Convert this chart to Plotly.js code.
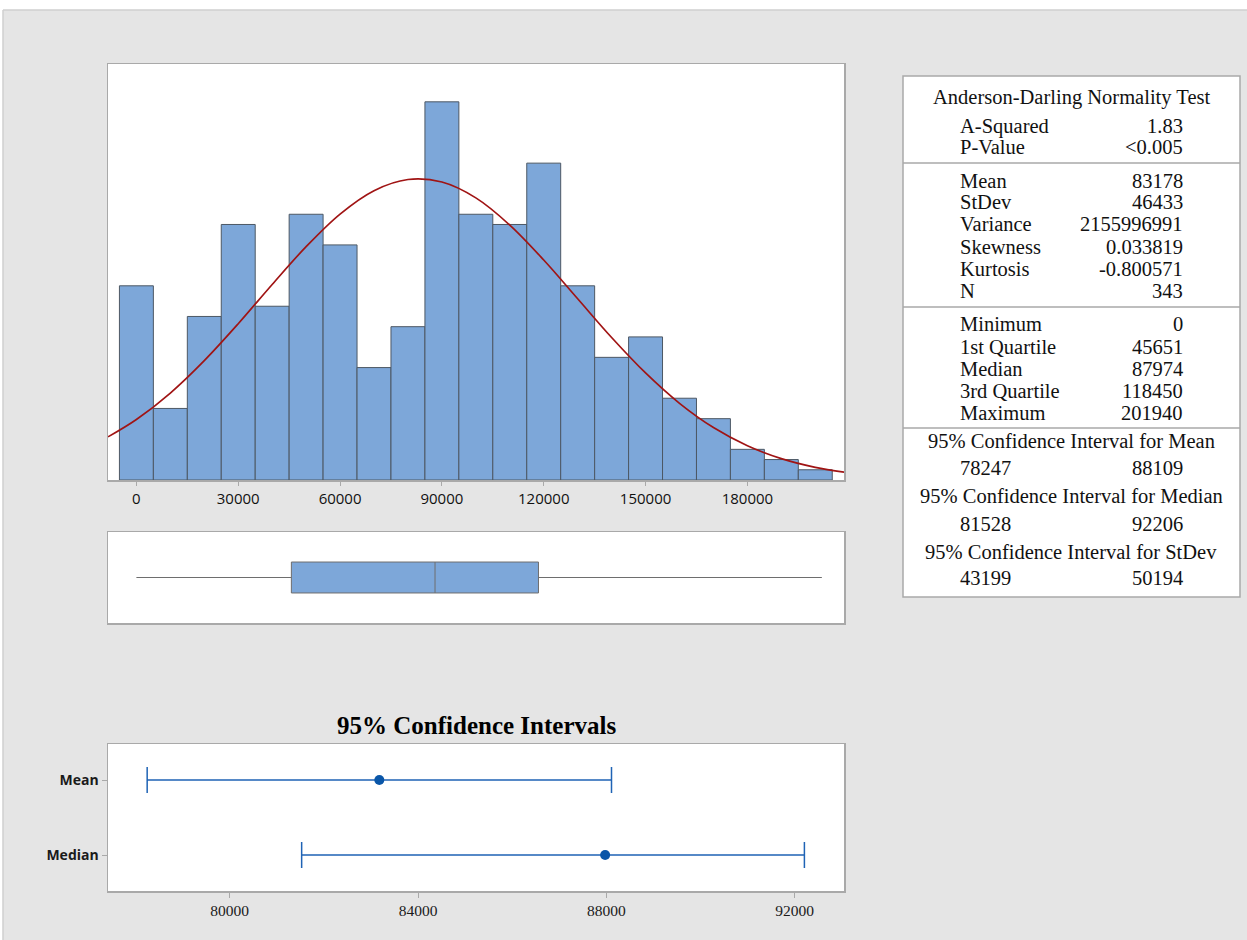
<!DOCTYPE html>
<html>
<head>
<meta charset="utf-8">
<script src="https://cdn.plot.ly/plotly-3.0.1.min.js"></script>
<style>
html,body{margin:0;padding:0;background:#ffffff;}
#chart{width:1247px;height:940px;}
</style>
</head>
<body>
<div id="chart"></div>
<script>
// ---------- DATA ----------
const binCenters = [0,10000,20000,30000,40000,50000,60000,70000,80000,90000,100000,110000,120000,130000,140000,150000,160000,170000,180000,190000,200000];
const binCounts  = [19,7,16,25,17,26,23,11,15,37,26,25,31,19,12,14,8,6,3,2,1];
const binWidth = 10000;

// fitted normal curve
const curveX = [-8367,0,10000,20000,30000,40000,50000,60000,70000,80000,90000,100000,110000,120000,130000,140000,150000,160000,170000,180000,190000,200000,208460];
const curveY = [4.22,5.92,8.51,11.68,15.29,19.13,22.83,26.02,28.31,29.40,29.15,27.60,24.94,21.52,17.73,13.94,10.47,7.50,5.13,3.35,2.09,1.24,0.77];

const histTicks = [0,30000,60000,90000,120000,150000,180000];

// box plot summary
const boxQ1 = [45651];
const boxMedian = [87974];
const boxQ3 = [118450];
const boxMin = [0];
const boxMax = [201940];

// confidence intervals
const ciLabels = ['Mean','Median'];
const ciCenter = [83178, 87974];
const ciLower  = [78247, 81528];
const ciUpper  = [88109, 92206];
const ciTicks  = [80000, 84000, 88000, 92000];

// summary table
const adTitle = 'Anderson-Darling Normality Test';
const adLabels = ['A-Squared','P-Value'];
const adValues = ['1.83','&lt;0.005'];
const momLabels = ['Mean','StDev','Variance','Skewness','Kurtosis','N'];
const momValues = ['83178','46433','2155996991','0.033819','-0.800571','343'];
const qLabels = ['Minimum','1st Quartile','Median','3rd Quartile','Maximum'];
const qValues = ['0','45651','87974','118450','201940'];
const ciTitles = ['95% Confidence Interval for Mean','95% Confidence Interval for Median','95% Confidence Interval for StDev'];
const ciLows  = ['78247','81528','43199'];
const ciHighs = ['88109','92206','50194'];

// ---------- LAYOUT HELPERS ----------
const W = 1247, H = 940;
const px = v => v / W;
const py = v => 1 - v / H;

const serif = 'Liberation Serif, Times New Roman, serif';
const sans = 'Open Sans, Noto Sans, sans-serif';
const frameColor = '#a9a9a9';
const barBlue = '#7da7d9';

const traces = [];

traces.push({
  type: 'bar', x: binCenters, y: binCounts, width: binWidth,
  marker: {color: barBlue, line: {color: '#4d5864', width: 1}},
  xaxis: 'x', yaxis: 'y', hoverinfo: 'skip'
});
traces.push({
  type: 'scatter', mode: 'lines', x: curveX, y: curveY,
  line: {color: '#a01414', width: 1.7, shape: 'spline', smoothing: 1},
  xaxis: 'x', yaxis: 'y', hoverinfo: 'skip'
});
traces.push({
  type: 'box', orientation: 'h', y: [0],
  q1: boxQ1, median: boxMedian, q3: boxQ3, lowerfence: boxMin, upperfence: boxMax,
  fillcolor: barBlue, line: {color: '#6e6e6e', width: 1},
  width: 0.68, whiskerwidth: 0, boxpoints: false,
  xaxis: 'x2', yaxis: 'y2', hoverinfo: 'skip'
});
traces.push({
  type: 'scatter', mode: 'markers',
  x: ciCenter, y: ciLabels.map((_, i) => i),
  marker: {color: '#0a56a8', size: 10},
  error_x: {
    type: 'data', symmetric: false,
    array: ciUpper.map((u, i) => u - ciCenter[i]),
    arrayminus: ciLower.map((l, i) => ciCenter[i] - l),
    color: '#1f63b5', thickness: 1.5, width: 13
  },
  xaxis: 'x3', yaxis: 'y3', hoverinfo: 'skip'
});

const frameAxis = {showline: true, mirror: true, linecolor: frameColor, linewidth: 1.5, showgrid: false, zeroline: false};

const shapes = [
  {type: 'rect', xref: 'paper', yref: 'paper', x0: 0, x1: 1, y0: py(10), y1: 1, fillcolor: '#ffffff', line: {width: 0}, layer: 'above'},
  {type: 'line', xref: 'paper', yref: 'paper', x0: px(3), x1: 1, y0: py(10), y1: py(10), line: {color: '#cfcfcf', width: 1.5}},
  {type: 'rect', xref: 'paper', yref: 'paper', x0: 0, x1: px(3), y0: 0, y1: 1, fillcolor: '#ffffff', line: {width: 0}, layer: 'above'},
  {type: 'line', xref: 'paper', yref: 'paper', x0: px(3), x1: px(3), y0: 0, y1: py(10), line: {color: '#cfcfcf', width: 1.5}},
  {type: 'rect', xref: 'paper', yref: 'paper', x0: px(903), x1: px(1240), y0: py(597), y1: py(76), fillcolor: '#ffffff', line: {color: frameColor, width: 1.5}, layer: 'below'},
  {type: 'line', xref: 'paper', yref: 'paper', x0: px(903), x1: px(1240), y0: py(163), y1: py(163), line: {color: frameColor, width: 1.5}},
  {type: 'line', xref: 'paper', yref: 'paper', x0: px(903), x1: px(1240), y0: py(307), y1: py(307), line: {color: frameColor, width: 1.5}},
  {type: 'line', xref: 'paper', yref: 'paper', x0: px(903), x1: px(1240), y0: py(428), y1: py(428), line: {color: frameColor, width: 1.5}}
];

const annotations = [];
const tFont = {family: serif, size: 20.5, color: '#111111'};
function textAt(text, x, y, anchor) {
  annotations.push({text: text, xref: 'paper', yref: 'paper', x: px(x), y: py(y), xanchor: anchor, yanchor: 'middle', showarrow: false, font: tFont, borderpad: 0});
}
textAt(adTitle, 1071, 98, 'center');
const adY = [126, 147];
adLabels.forEach((l, i) => { textAt(l, 959, adY[i], 'left'); textAt(adValues[i], 1184, adY[i], 'right'); });
const momY = [181, 202, 224, 247, 269, 291];
momLabels.forEach((l, i) => { textAt(l, 959, momY[i], 'left'); textAt(momValues[i], 1184, momY[i], 'right'); });
const qY = [324, 347, 369, 391, 413];
qLabels.forEach((l, i) => { textAt(l, 959, qY[i], 'left'); textAt(qValues[i], 1184, qY[i], 'right'); });
const ciTY = [441, 496, 552];
const ciVY = [468, 524, 578];
ciTitles.forEach((t, i) => {
  textAt(t, 1071, ciTY[i], 'center');
  textAt(ciLows[i], 959, ciVY[i], 'left');
  textAt(ciHighs[i], 1184, ciVY[i], 'right');
});
annotations.push({
  text: '<b>95% Confidence Intervals</b>', xref: 'paper', yref: 'paper',
  x: px(476), y: py(725), xanchor: 'center', yanchor: 'middle', showarrow: false,
  font: {family: serif, size: 25, color: '#000000'}
});

const layout = {
  width: W, height: H, autosize: false,
  margin: {l: 0, r: 0, t: 0, b: 0, pad: 0},
  paper_bgcolor: '#e5e5e5', plot_bgcolor: '#ffffff',
  showlegend: false, bargap: 0,
  xaxis: Object.assign({}, frameAxis, {
    domain: [px(108), px(844)], anchor: 'y', range: [-8367, 208460],
    tickmode: 'array', tickvals: histTicks, ticktext: histTicks.map(String),
    ticks: 'outside', ticklen: 4, tickcolor: frameColor, tickwidth: 1,
    tickfont: {family: sans, size: 15, color: '#111111'}
  }),
  yaxis: Object.assign({}, frameAxis, {
    domain: [py(480), py(64)], anchor: 'x', range: [0, 40.7],
    showticklabels: false, ticks: ''
  }),
  xaxis2: Object.assign({}, frameAxis, {
    domain: [px(108), px(844)], anchor: 'y2', range: [-8367, 208460],
    showticklabels: false, ticks: ''
  }),
  yaxis2: Object.assign({}, frameAxis, {
    domain: [py(623), py(532)], anchor: 'x2', range: [-1, 1],
    showticklabels: false, ticks: ''
  }),
  xaxis3: Object.assign({}, frameAxis, {
    domain: [px(108), px(844)], anchor: 'y3', range: [77415, 93047],
    tickmode: 'array', tickvals: ciTicks, ticktext: ciTicks.map(String),
    ticks: 'outside', ticklen: 5, tickcolor: frameColor, tickwidth: 1,
    tickfont: {family: serif, size: 15.5, color: '#1a1a1a'}
  }),
  yaxis3: Object.assign({}, frameAxis, {
    domain: [py(891), py(744)], anchor: 'x3', range: [1.48, -0.48],
    tickmode: 'array', tickvals: ciLabels.map((_, i) => i), ticktext: ciLabels,
    ticks: 'outside', ticklen: 5, tickcolor: frameColor, tickwidth: 1,
    tickfont: {family: sans, size: 14, color: '#1a1a1a', weight: 'bold'}
  }),
  shapes: shapes,
  annotations: annotations
};

Plotly.newPlot('chart', traces, layout, {staticPlot: true, displayModeBar: false});
</script>
</body>
</html>
